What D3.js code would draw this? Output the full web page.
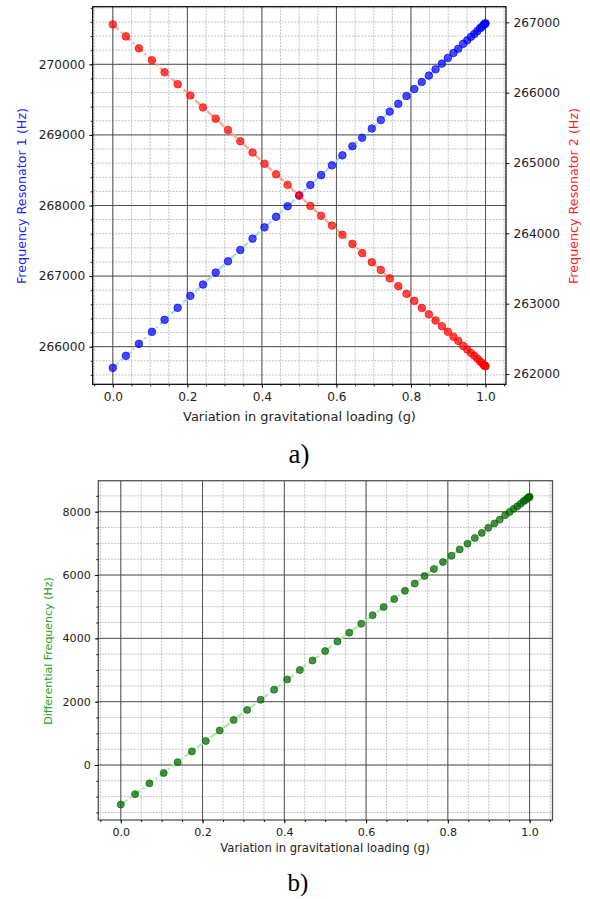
<!DOCTYPE html>
<html>
<head>
<meta charset="utf-8">
<script src="https://cdn.jsdelivr.net/npm/d3@7"></script>
<style>
  body { margin: 0; background: #fff; }
  svg { display: block; font-family: "DejaVu Sans", sans-serif; }
  .caption { font-family: "Liberation Serif", "Times New Roman", serif; }
</style>
</head>
<body>
<div class="wrapper"></div>
<script>
var loading = [0, 0.035, 0.070, 0.105, 0.139, 0.174, 0.208, 0.242, 0.276, 0.309,
  0.342, 0.375, 0.407, 0.438, 0.469, 0.500, 0.530, 0.559, 0.588, 0.616,
  0.643, 0.669, 0.695, 0.719, 0.743, 0.766, 0.788, 0.809, 0.829, 0.848,
  0.866, 0.883, 0.899, 0.914, 0.927, 0.940, 0.951, 0.961, 0.970, 0.978,
  0.985, 0.990, 0.995, 0.998, 0.999, 1.000];

// resonator 1 (Hz), left axis
var freq1 = [265700, 265870, 266040, 266210, 266380, 266550, 266720, 266880, 267050, 267210,
  267370, 267530, 267690, 267840, 267990, 268140, 268290, 268430, 268570, 268710,
  268840, 268960, 269090, 269210, 269330, 269440, 269550, 269650, 269750, 269840,
  269930, 270010, 270090, 270160, 270220, 270290, 270340, 270390, 270430, 270470,
  270510, 270530, 270560, 270570, 270575, 270580];

// resonator 2 (Hz), right axis
var freq2 = [266970, 266800, 266630, 266460, 266290, 266120, 265960, 265790, 265630, 265470,
  265310, 265150, 264990, 264840, 264690, 264540, 264390, 264250, 264110, 263980,
  263850, 263720, 263590, 263480, 263360, 263250, 263140, 263040, 262940, 262850,
  262760, 262680, 262600, 262530, 262470, 262400, 262350, 262300, 262260, 262220,
  262180, 262160, 262130, 262120, 262115, 262110];

// differential frequency (Hz)
var freqDiff = [-1250, -920, -580, -250, 90, 430, 760, 1090, 1420, 1740,
  2060, 2380, 2700, 3000, 3300, 3600, 3900, 4180, 4460, 4730,
  4990, 5240, 5500, 5730, 5970, 6190, 6410, 6610, 6810, 6990,
  7170, 7330, 7490, 7630, 7750, 7890, 7990, 8090, 8170, 8250,
  8330, 8370, 8430, 8450, 8460, 8470];

var xTicks = [0, 0.2, 0.4, 0.6, 0.8, 1.0];
var xMinor = d3.range(-0.05, 1.0501, 0.05);
var f1Ticks = [266000, 267000, 268000, 269000, 270000];
var f1Minor = d3.range(265600, 270801, 200);
var f2Ticks = [262000, 263000, 264000, 265000, 266000, 267000];
var diffTicks = [0, 2000, 4000, 6000, 8000];
var diffMinor = d3.range(-1500, 8901, 500);

var xTitle = "Variation in gravitational loading (g)";

var width = 590, height = 899;

var svg = d3.select(".wrapper").append("svg")
    .attr("width", width)
    .attr("height", height);

function drawGrid(g, x, y, xMin, yMin, xMaj, yMaj, x0, x1, y0, y1) {
    g.selectAll(".minx").data(xMin).enter().append("line")
        .attr("x1", x).attr("x2", x).attr("y1", y0).attr("y2", y1)
        .attr("stroke", "#9a9a9a").attr("stroke-width", 0.6).attr("stroke-dasharray", "2,1.2");
    g.selectAll(".miny").data(yMin).enter().append("line")
        .attr("x1", x0).attr("x2", x1).attr("y1", y).attr("y2", y)
        .attr("stroke", "#9a9a9a").attr("stroke-width", 0.6).attr("stroke-dasharray", "2,1.2");
    g.selectAll(".majx").data(xMaj).enter().append("line")
        .attr("x1", x).attr("x2", x).attr("y1", y0).attr("y2", y1)
        .attr("stroke", "#444").attr("stroke-width", 0.9);
    g.selectAll(".majy").data(yMaj).enter().append("line")
        .attr("x1", x0).attr("x2", x1).attr("y1", y).attr("y2", y)
        .attr("stroke", "#444").attr("stroke-width", 0.9);
}

function styleAxis(sel, size) {
    sel.select(".domain").remove();
    sel.selectAll("line").attr("stroke", "#000").attr("stroke-width", 0.9);
    sel.selectAll("text").attr("font-size", size).attr("fill", "#222").attr("font-family", "DejaVu Sans");
}

function drawSeries(g, x, y, xs, ys, lineColor, dotColor, r) {
    var pts = xs.map(function(d, i) { return [d, ys[i]]; });
    g.append("path")
        .datum(pts)
        .attr("fill", "none")
        .attr("stroke", lineColor)
        .attr("stroke-width", 2.2)
        .attr("stroke-dasharray", "8,3,2,3")
        .attr("d", d3.line().x(function(d) { return x(d[0]); }).y(function(d) { return y(d[1]); }));
    g.selectAll(".dot").data(pts).enter().append("circle")
        .attr("cx", function(d) { return x(d[0]); })
        .attr("cy", function(d) { return y(d[1]); })
        .attr("r", r)
        .attr("fill", dotColor)
        .attr("fill-opacity", 0.7)
        .attr("stroke", dotColor)
        .attr("stroke-opacity", 0.75)
        .attr("stroke-width", 0.9);
}

// ---------- panel a ----------
var a = { left: 92.7, right: 506, top: 6.7, bottom: 384.3 };

var xa = d3.scaleLinear().domain([-0.054, 1.055]).range([a.left, a.right]);
var y1 = d3.scaleLinear().domain([265467, 270816]).range([a.bottom, a.top]);
var y2 = d3.scaleLinear().domain([261854, 267222]).range([a.bottom, a.top]);

var ga = svg.append("g");
drawGrid(ga, xa, y1, xMinor, f1Minor, xTicks, f1Ticks, a.left, a.right, a.top, a.bottom);

drawSeries(ga, xa, y1, loading, freq1, "#a8d8ee", "#0000ff", 3.8);
drawSeries(ga, xa, y2, loading, freq2, "#ffa888", "#ff0000", 3.8);

ga.append("rect")
    .attr("x", a.left).attr("y", a.top)
    .attr("width", a.right - a.left).attr("height", a.bottom - a.top)
    .attr("fill", "none").attr("stroke", "#000").attr("stroke-width", 1.2);

ga.append("g").attr("transform", "translate(0," + a.bottom + ")")
    .call(d3.axisBottom(xa).tickValues(xMinor).tickSize(2).tickFormat(""))
    .call(styleAxis, 12.2);
ga.append("g").attr("transform", "translate(0," + a.bottom + ")")
    .call(d3.axisBottom(xa).tickValues(xTicks).tickSize(3.5).tickPadding(5).tickFormat(d3.format(".1f")))
    .call(styleAxis, 12.2);
ga.append("g").attr("transform", "translate(" + a.left + ",0)")
    .call(d3.axisLeft(y1).tickValues(f1Minor).tickSize(2).tickFormat(""))
    .call(styleAxis, 12.2);
ga.append("g").attr("transform", "translate(" + a.left + ",0)")
    .call(d3.axisLeft(y1).tickValues(f1Ticks).tickSize(3.5).tickPadding(4).tickFormat(d3.format("d")))
    .call(styleAxis, 12.2);
ga.append("g").attr("transform", "translate(" + a.right + ",0)")
    .call(d3.axisRight(y2).tickValues(f2Ticks).tickSize(3.5).tickPadding(4).tickFormat(d3.format("d")))
    .call(styleAxis, 12.2);

ga.append("text")
    .attr("x", 299.5).attr("y", 421)
    .attr("text-anchor", "middle").attr("font-size", 12.9).attr("fill", "#222")
    .text(xTitle);
ga.append("text")
    .attr("transform", "translate(25.5,196) rotate(-90)")
    .attr("text-anchor", "middle").attr("font-size", 12.7).attr("fill", "#2020ff")
    .text("Frequency Resonator 1 (Hz)");
ga.append("text")
    .attr("transform", "translate(578,196) rotate(-90)")
    .attr("text-anchor", "middle").attr("font-size", 12.7).attr("fill", "#ff2020")
    .text("Frequency Resonator 2 (Hz)");
svg.append("text").attr("class", "caption")
    .attr("x", 299).attr("y", 463)
    .attr("text-anchor", "middle").attr("font-size", 27).attr("fill", "#000")
    .text("a)");

// ---------- panel b ----------
var b = { left: 98.3, right: 552.5, top: 480.7, bottom: 820 };

var xb = d3.scaleLinear().domain([-0.055, 1.056]).range([b.left, b.right]);
var yd = d3.scaleLinear().domain([-1737, 8979]).range([b.bottom, b.top]);

var gb = svg.append("g");
drawGrid(gb, xb, yd, xMinor, diffMinor, xTicks, diffTicks, b.left, b.right, b.top, b.bottom);

drawSeries(gb, xb, yd, loading, freqDiff, "#a6eea6", "#006400", 3.5);

gb.append("rect")
    .attr("x", b.left).attr("y", b.top)
    .attr("width", b.right - b.left).attr("height", b.bottom - b.top)
    .attr("fill", "none").attr("stroke", "#555").attr("stroke-width", 1.3);

gb.append("g").attr("transform", "translate(0," + b.bottom + ")")
    .call(d3.axisBottom(xb).tickValues(xMinor).tickSize(2).tickFormat(""))
    .call(styleAxis, 11.1);
gb.append("g").attr("transform", "translate(0," + b.bottom + ")")
    .call(d3.axisBottom(xb).tickValues(xTicks).tickSize(3.5).tickPadding(5).tickFormat(d3.format(".1f")))
    .call(styleAxis, 11.1);
gb.append("g").attr("transform", "translate(" + b.left + ",0)")
    .call(d3.axisLeft(yd).tickValues(diffMinor).tickSize(2).tickFormat(""))
    .call(styleAxis, 11.1);
gb.append("g").attr("transform", "translate(" + b.left + ",0)")
    .call(d3.axisLeft(yd).tickValues(diffTicks).tickSize(3.5).tickPadding(4).tickFormat(d3.format("d")))
    .call(styleAxis, 11.1);

gb.append("text")
    .attr("x", 325).attr("y", 852)
    .attr("text-anchor", "middle").attr("font-size", 11.6).attr("fill", "#222")
    .text(xTitle);
gb.append("text")
    .attr("transform", "translate(52,651) rotate(-90)")
    .attr("text-anchor", "middle").attr("font-size", 11).attr("fill", "#22a022")
    .text("Differential Frequency (Hz)");
svg.append("text").attr("class", "caption")
    .attr("x", 298).attr("y", 891)
    .attr("text-anchor", "middle").attr("font-size", 25).attr("fill", "#000")
    .text("b)");
</script>
</body>
</html>
